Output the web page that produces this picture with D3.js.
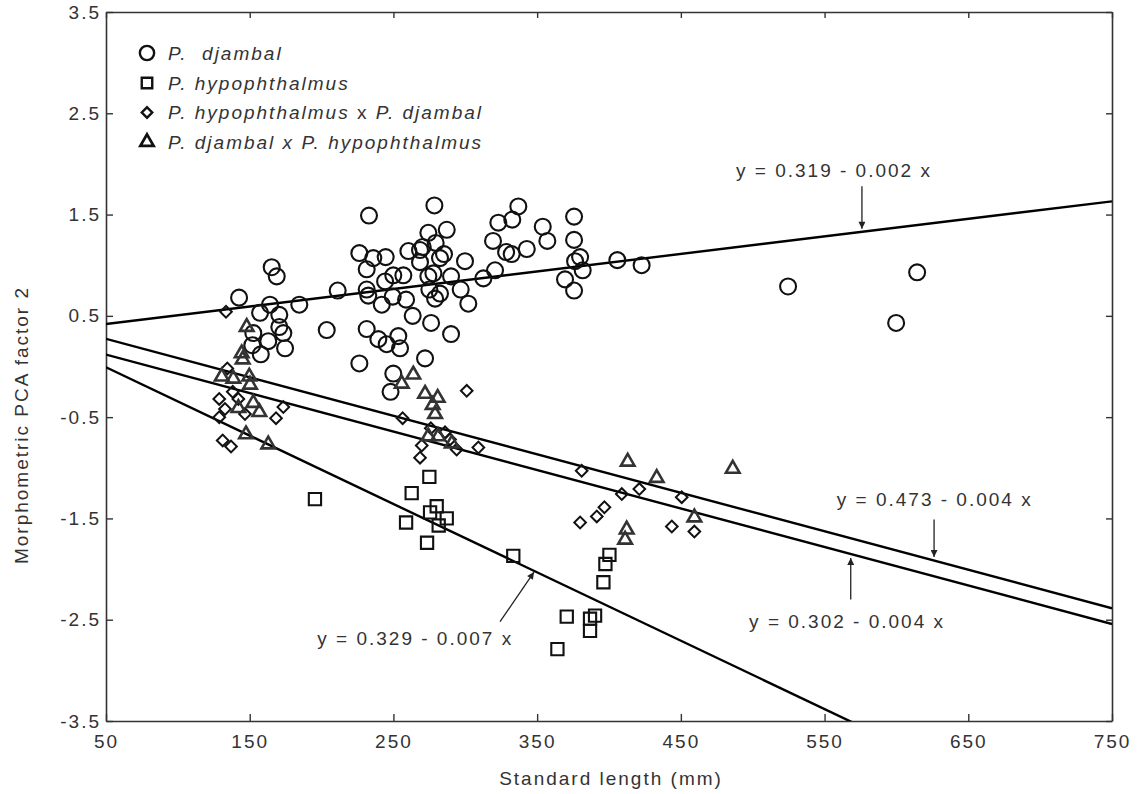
<!DOCTYPE html>
<html>
<head>
<meta charset="utf-8">
<script src="https://cdn.jsdelivr.net/npm/d3@7"></script>
<style>
  body { margin: 0; background: #fff; }
  svg text { font-family: "Liberation Sans", Arial, sans-serif; font-size: 19px; fill: #333; letter-spacing: 2px; }
</style>
</head>
<body>
<svg id="chart"></svg>
<script>
// standard length (mm), PCA factor 2
const djambal = [
  [142.6,0.68],[165.3,0.98],[168.8,0.89],[164.1,0.61],[157.2,0.53],[170.6,0.51],[184.5,0.61],[170.6,0.39],
  [173.4,0.33],[152.5,0.33],[162.9,0.25],[151.8,0.21],[157.7,0.12],[174.6,0.18],[203.6,0.36],[211.2,0.75],
  [233.0,1.49],[226.3,1.12],[236.0,1.07],[244.6,1.08],[231.4,0.96],[249.9,0.90],[256.9,0.90],[244.2,0.84],
  [231.4,0.76],[232.5,0.70],[241.9,0.61],[249.5,0.69],[258.8,0.66],[263.4,0.50],[231.4,0.37],[239.5,0.27],
  [245.3,0.22],[253.4,0.30],[254.6,0.18],[226.3,0.03],[249.9,-0.07],[272.0,0.08],[260.4,1.14],[268.5,1.15],
  [270.4,1.18],[274.3,1.32],[278.5,1.59],[287.1,1.35],[279.4,1.22],[285.2,1.11],[282.4,1.07],[268.5,1.03],
  [274.3,0.89],[277.8,0.92],[290.1,0.89],[275.0,0.76],[282.4,0.72],[279.0,0.67],[299.8,1.04],[296.8,0.76],
  [302.1,0.62],[276.2,0.43],[290.1,0.32],[312.6,0.87],[319.3,1.24],[323.0,1.42],[320.7,0.95],[336.9,1.58],
  [332.7,1.45],[353.9,1.38],[357.1,1.24],[342.8,1.16],[328.4,1.13],[332.3,1.11],[375.7,1.48],[375.7,1.25],
  [379.9,1.08],[376.4,1.04],[381.7,0.95],[369.4,0.86],[375.7,0.75],[405.8,1.05],[422.7,1.00],[248.0,-0.25],
  [524.6,0.79],[599.8,0.43],[614.4,0.93]
];
const hypophthalmus = [
  [195.4,-1.31],[262.7,-1.25],[275.0,-1.09],[280.1,-1.38],[275.5,-1.44],[287.1,-1.50],[281.5,-1.57],
  [258.8,-1.54],[273.4,-1.74],[333.4,-1.87],[400.3,-1.86],[397.5,-1.95],[396.1,-2.13],[370.6,-2.47],
  [386.8,-2.49],[390.3,-2.46],[386.8,-2.61],[364.1,-2.79]
];
const hypoXdjambal = [
  [133.5,0.54],[134.4,-0.02],[128.8,-0.32],[132.8,-0.42],[128.8,-0.50],[138.2,-0.25],[142.1,-0.32],
  [146.7,-0.47],[173.4,-0.40],[168.3,-0.51],[131.2,-0.73],[137.0,-0.79],[256.4,-0.51],[301.0,-0.24],
  [276.0,-0.61],[269.7,-0.78],[268.5,-0.90],[289.4,-0.72],[294.0,-0.82],[309.1,-0.80],[381.0,-1.03],
  [408.9,-1.26],[421.1,-1.21],[396.8,-1.39],[391.5,-1.48],[379.9,-1.54],[450.6,-1.29],[443.7,-1.58],
  [459.4,-1.63],[285.9,-0.65]
];
const djambalXhypo = [
  [147.9,0.39],[144.4,0.13],[145.1,0.07],[130.5,-0.10],[138.6,-0.12],[149.7,-0.10],[150.2,-0.18],
  [152.5,-0.36],[156.7,-0.45],[142.1,-0.41],[147.4,-0.67],[162.9,-0.77],[263.8,-0.08],[255.8,-0.17],
  [272.0,-0.27],[280.8,-0.31],[277.3,-0.38],[279.0,-0.47],[274.3,-0.69],[281.2,-0.69],[290.6,-0.76],
  [413.0,-0.94],[433.2,-1.10],[486.1,-1.01],[459.4,-1.49],[412.3,-1.61],[411.2,-1.71]
];

// regression lines as drawn: intercept, slope
const fitLines = [
  { a: 0.333, b: 0.00173 },
  { a: 0.463, b: -0.0038 },
  { a: 0.308, b: -0.0038 },
  { a: 0.330, b: -0.00675 }
];
const eqLabels = [
  { text: "y = 0.319 - 0.002 x", x: 488.4, y: 1.87 },
  { text: "y = 0.473 - 0.004 x", x: 558.5, y: -1.38 },
  { text: "y = 0.302 - 0.004 x", x: 497.5, y: -2.58 },
  { text: "y = 0.329 - 0.007 x", x: 197.0, y: -2.75 }
];
const eqArrows = [
  [576.0, 1.78, 576.0, 1.36],
  [626.2, -1.51, 626.2, -1.88],
  [568.2, -2.30, 568.2, -1.89],
  [324.2, -2.52, 347.8, -2.03]
];

const xTicks = [50, 150, 250, 350, 450, 550, 650, 750];
const yTicks = [-3.5, -2.5, -1.5, -0.5, 0.5, 1.5, 2.5, 3.5];
const legendItems = [
  [["P.  djambal", true]],
  [["P. hypophthalmus", true]],
  [["P. hypophthalmus", true], [" x ", false], ["P. djambal", true]],
  [["P. djambal x P. hypophthalmus", true]]
];

const WIDTH = 1137, HEIGHT = 794;
const PLOT = { left: 106, right: 1112, top: 12, bottom: 721 };

const x = d3.scaleLinear().domain([50, 750]).range([PLOT.left, PLOT.right]);
const y = d3.scaleLinear().domain([-3.5, 3.5]).range([PLOT.bottom, PLOT.top]);

const svg = d3.select("#chart").attr("width", WIDTH).attr("height", HEIGHT);
svg.append("rect").attr("width", WIDTH).attr("height", HEIGHT).attr("fill", "#fff");

svg.append("defs").append("clipPath").attr("id", "plotclip")
  .append("rect").attr("x", PLOT.left).attr("y", PLOT.top)
  .attr("width", PLOT.right - PLOT.left).attr("height", PLOT.bottom - PLOT.top);

svg.select("defs").append("marker")
  .attr("id", "arrowhead").attr("viewBox", "0 0 10 10")
  .attr("refX", 10).attr("refY", 5)
  .attr("markerWidth", 9).attr("markerHeight", 7)
  .attr("markerUnits", "userSpaceOnUse")
  .attr("orient", "auto")
  .append("path").attr("d", "M0,0L10,5L0,10Z").attr("fill", "#222");

// axes (ticks point inward on all four sides)
const fmtY = d => d.toFixed(1);
const axes = [
  svg.append("g").attr("transform", `translate(0,${PLOT.bottom})`)
    .call(d3.axisBottom(x).tickValues(xTicks).tickSize(-7).tickSizeOuter(0).tickPadding(14).tickFormat(d3.format("d"))),
  svg.append("g").attr("transform", `translate(${PLOT.left},0)`)
    .call(d3.axisLeft(y).tickValues(yTicks).tickSize(-7).tickSizeOuter(0).tickPadding(5).tickFormat(fmtY)),
  svg.append("g").attr("transform", `translate(0,${PLOT.top})`)
    .call(d3.axisTop(x).tickValues(xTicks).tickSize(-6).tickSizeOuter(0).tickFormat("")),
  svg.append("g").attr("transform", `translate(${PLOT.right},0)`)
    .call(d3.axisRight(y).tickValues(yTicks).tickSize(-6).tickSizeOuter(0).tickFormat(""))
];
axes.forEach(g => {
  g.select(".domain").attr("stroke", "#333").attr("stroke-width", 1.6);
  g.selectAll(".tick line").attr("stroke", "#333").attr("stroke-width", 1.4);
  g.selectAll(".tick text").attr("fill", "#333").style("font-size", "19px")
    .style("font-family", '"Liberation Sans", Arial, sans-serif');
});

svg.append("text")
  .attr("x", 611).attr("y", 778).attr("dy", "0.35em")
  .attr("text-anchor", "middle")
  .text("Standard length (mm)");

svg.append("text")
  .attr("transform", "translate(21,425) rotate(-90)")
  .attr("dy", "0.35em")
  .attr("text-anchor", "middle")
  .text("Morphometric PCA factor 2");

// fitted lines
const plot = svg.append("g").attr("clip-path", "url(#plotclip)");
plot.selectAll(".fit")
  .data(fitLines)
  .enter()
  .append("line")
  .classed("fit", true)
  .attr("x1", x(50)).attr("y1", d => y(d.a + d.b * 50))
  .attr("x2", x(750)).attr("y2", d => y(d.a + d.b * 750))
  .attr("stroke", "#000").attr("stroke-width", 2.4);

// points
const series = [
  { data: djambal, type: d3.symbolCircle, size: 200, rot: 0, color: "#111", sw: 2.1 },
  { data: hypophthalmus, type: d3.symbolSquare, size: 150, rot: 0, color: "#111", sw: 2.1 },
  { data: hypoXdjambal, type: d3.symbolSquare, size: 68, rot: 45, color: "#111", sw: 2 },
  { data: djambalXhypo, type: d3.symbolTriangle, size: 80, rot: 0, color: "#333", sw: 2.6 }
];
series.forEach(s => {
  plot.append("g").selectAll("path")
    .data(s.data)
    .enter()
    .append("path")
    .attr("d", d3.symbol().type(s.type).size(s.size))
    .attr("transform", d => `translate(${x(d[0])},${y(d[1])}) rotate(${s.rot})`)
    .attr("fill", "none")
    .attr("stroke", s.color)
    .attr("stroke-width", s.sw);
});

// equation labels and arrows
svg.selectAll(".eq")
  .data(eqLabels)
  .enter()
  .append("text")
  .classed("eq", true)
  .attr("x", d => x(d.x)).attr("y", d => y(d.y))
  .text(d => d.text);

svg.selectAll(".arrow")
  .data(eqArrows)
  .enter()
  .append("line")
  .classed("arrow", true)
  .attr("x1", d => x(d[0])).attr("y1", d => y(d[1]))
  .attr("x2", d => x(d[2])).attr("y2", d => y(d[3]))
  .attr("stroke", "#222").attr("stroke-width", 1.3)
  .attr("marker-end", "url(#arrowhead)");

// legend
const legendSymbols = [
  { type: d3.symbolCircle, size: 160, rot: 0 },
  { type: d3.symbolSquare, size: 110, rot: 0 },
  { type: d3.symbolSquare, size: 55, rot: 45 },
  { type: d3.symbolTriangle, size: 75, rot: 0 }
];
const legend = svg.append("g");
const rowY = [53, 83, 112.5, 142];
legendItems.forEach((parts, i) => {
  const sym = legendSymbols[i];
  legend.append("path")
    .attr("d", d3.symbol().type(sym.type).size(sym.size))
    .attr("transform", `translate(147,${rowY[i]}) rotate(${sym.rot})`)
    .attr("fill", "none").attr("stroke", "#111").attr("stroke-width", i === 3 ? 2.8 : 2.4);
  const t = legend.append("text")
    .attr("x", 168).attr("y", rowY[i]).attr("dy", "0.35em")
    .style("white-space", "pre");
  parts.forEach(p => {
    t.append("tspan").style("font-style", p[1] ? "italic" : "normal").text(p[0]);
  });
});
</script>
</body>
</html>
